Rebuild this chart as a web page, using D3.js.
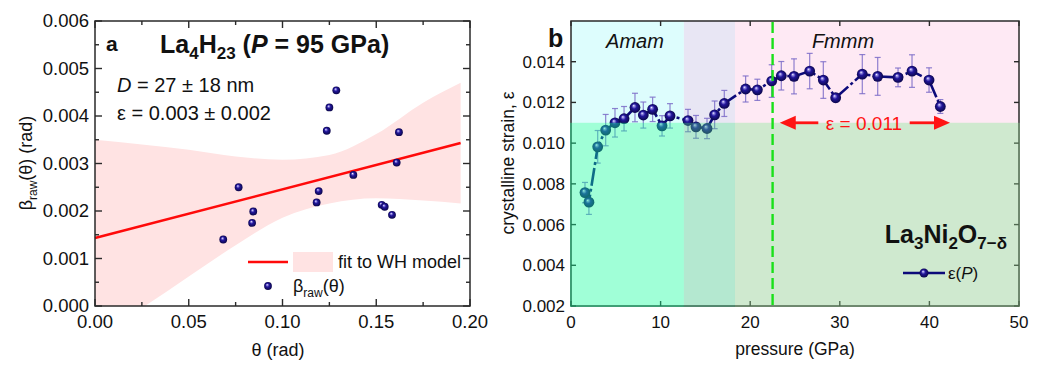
<!DOCTYPE html>
<html><head><meta charset="utf-8">
<script src="https://cdn.jsdelivr.net/npm/d3@7"></script>
<style>
body{margin:0;background:#fff;}
text{font-family:Arial,"Liberation Sans",sans-serif;fill:#111;}
</style></head><body>
<svg id="c" width="1043" height="368"></svg>
<script>
// ---------- Panel a data ----------
const thetaPts = [0.0684,0.0766,0.0844,0.0838,0.1182,0.1193,0.1236,0.1250,0.1287,0.1378,0.1529,0.1545,0.1584,0.1609,0.1621];
const betaPts  = [0.00140,0.00250,0.00199,0.00175,0.00218,0.00242,0.00369,0.00418,0.00454,0.00276,0.00213,0.00209,0.00192,0.00302,0.00366];
const fitTheta = [0, 0.195];
const fitBeta  = [0.00143, 0.00343];
const bandTheta = [0, 0.025, 0.05, 0.075, 0.1, 0.125, 0.15, 0.175, 0.195];
const bandUpper = [0.00350, 0.00340, 0.00329, 0.00315, 0.00308, 0.00318, 0.00362, 0.00428, 0.00470];
const bandLower = [-0.0006, -0.00004, 0.00062, 0.00128, 0.00186, 0.00216, 0.00227, 0.00222, 0.00216];
const aXTicks = [0, 0.05, 0.10, 0.15, 0.20];
const aYTicks = [0, 0.001, 0.002, 0.003, 0.004, 0.005, 0.006];

// ---------- Panel b data ----------
const pressure = [1.56,2.0,2.98,3.87,4.91,5.92,7.14,8.07,9.11,10.16,11.05,13.06,13.95,15.18,16.03,17.11,19.49,20.8,22.4,23.47,24.89,26.64,28.16,29.54,32.51,34.23,36.5,38.06,39.96,41.22];
const strain = [0.00757,0.0071,0.00982,0.01064,0.0110,0.0112,0.01175,0.01138,0.01166,0.01085,0.01134,0.01111,0.0108,0.01072,0.01139,0.01195,0.01266,0.01262,0.01305,0.01331,0.01328,0.01354,0.0131,0.01223,0.01339,0.01328,0.01323,0.01354,0.0131,0.0118];
const strainErr = [0.0005,0.0006,0.0008,0.00077,0.0007,0.0006,0.0007,0.00064,0.0006,0.0005,0.0006,0.00055,0.00056,0.0005,0.00068,0.00064,0.00064,0.00052,0.0008,0.0007,0.00086,0.00087,0.0009,0.0002,0.00096,0.00093,0.00046,0.0008,0.0006,0.00034];
const phaseBounds = [0, 12.6, 18.3, 50];
const strainThreshold = 0.011;
const transitionP = 22.5;
const arrowP = [23.3, 27.6, 37.8, 42.3];
const bXTicks = [0, 10, 20, 30, 40, 50];
const bYTicks = [0.002, 0.004, 0.006, 0.008, 0.010, 0.012, 0.014];

const svg = d3.select("#c");
const defs = svg.append("defs");
function sphere(id){
  const g = defs.append("radialGradient").attr("id", id).attr("cx","50%").attr("cy","50%").attr("r","55%").attr("fx","38%").attr("fy","32%");
  g.append("stop").attr("offset","0%").attr("stop-color","#ffffff");
  g.append("stop").attr("offset","14%").attr("stop-color","#9a92e6");
  g.append("stop").attr("offset","42%").attr("stop-color","#22169a");
  g.append("stop").attr("offset","100%").attr("stop-color","#080440");
}
sphere("sphA");
sphere("sphB");

// ================= PANEL A =================
const A = {l:95, r:470, t:21, b:306};
const xa = d3.scaleLinear().domain([0,0.2]).range([A.l,A.r]);
const ya = d3.scaleLinear().domain([0,0.006]).range([A.b,A.t]);
defs.append("clipPath").attr("id","clipA").append("rect").attr("x",A.l).attr("y",A.t).attr("width",A.r-A.l).attr("height",A.b-A.t);
const ga = svg.append("g");
const band = d3.area().x((d,i)=>xa(bandTheta[i])).y0((d,i)=>ya(bandLower[i])).y1((d,i)=>ya(bandUpper[i])).curve(d3.curveMonotoneX);
ga.append("path").attr("clip-path","url(#clipA)").attr("d", band(bandTheta)).attr("fill","#ffe3e3");
ga.append("path").attr("d", d3.line().x((d,i)=>xa(fitTheta[i])).y((d,i)=>ya(fitBeta[i]))(fitTheta))
  .attr("stroke","#ff0a0a").attr("stroke-width",2.6).attr("fill","none");
ga.selectAll("circle.pa").data(thetaPts).join("circle").attr("class","pa")
  .attr("cx",(d)=>xa(d)).attr("cy",(d,i)=>ya(betaPts[i])).attr("r",3.9).attr("fill","url(#sphA)");

function frameAxes(g, x, y, box, xt, yt, xMinor, yMinor, majLen, minLen, xfmt, yfmt, fs){
  g.append("rect").attr("x",box.l).attr("y",box.t).attr("width",box.r-box.l).attr("height",box.b-box.t)
    .attr("fill","none").attr("stroke","#2a2a2a").attr("stroke-width",1.5);
  const tick = (x1,y1,x2,y2)=>g.append("line").attr("x1",x1).attr("y1",y1).attr("x2",x2).attr("y2",y2).attr("stroke","#2a2a2a").attr("stroke-width",1.4);
  xt.forEach(v=>{tick(x(v),box.b,x(v),box.b-majLen); tick(x(v),box.t,x(v),box.t+majLen);});
  xMinor.forEach(v=>{tick(x(v),box.b,x(v),box.b-minLen); tick(x(v),box.t,x(v),box.t+minLen);});
  yt.forEach(v=>{tick(box.l,y(v),box.l+majLen,y(v)); tick(box.r,y(v),box.r-majLen,y(v));});
  yMinor.forEach(v=>{tick(box.l,y(v),box.l+minLen,y(v)); tick(box.r,y(v),box.r-minLen,y(v));});
  xt.forEach(v=>g.append("text").attr("x",x(v)).attr("y",box.b+22).attr("text-anchor","middle").attr("font-size",fs).text(xfmt(v)));
  yt.forEach(v=>g.append("text").attr("x",box.l-6).attr("y",y(v)+6).attr("text-anchor","end").attr("font-size",fs).text(yfmt(v)));
}
const aXMinor = [0.025,0.075,0.125,0.175];
const aYMinor = [0.0005,0.0015,0.0025,0.0035,0.0045,0.0055];
frameAxes(ga, xa, ya, A, aXTicks, aYTicks, aXMinor, aYMinor, 7, 4, d3.format(".2f"), d3.format(".3f"), 18.5);

ga.append("text").attr("x",106).attr("y",51).attr("font-size",21).attr("font-weight","bold").text("a");
const tA = ga.append("text").attr("x",160).attr("y",53).attr("font-size",25).attr("font-weight","bold");
tA.append("tspan").text("La");
tA.append("tspan").attr("font-size",17).attr("dy",6).text("4");
tA.append("tspan").attr("dy",-6).text("H");
tA.append("tspan").attr("font-size",17).attr("dy",6).text("23");
tA.append("tspan").attr("dy",-6).text(" (");
tA.append("tspan").attr("font-style","italic").text("P");
tA.append("tspan").text(" = 95 GPa)");
const tD = ga.append("text").attr("x",117).attr("y",92).attr("font-size",20);
tD.append("tspan").attr("font-style","italic").text("D");
tD.append("tspan").text(" = 27 ± 18 nm");
ga.append("text").attr("x",117).attr("y",120).attr("font-size",20).text("ε = 0.003 ± 0.002");
ga.append("line").attr("x1",248).attr("x2",288).attr("y1",262).attr("y2",262).attr("stroke","#ff0a0a").attr("stroke-width",2.6);
ga.append("rect").attr("x",293).attr("y",252).attr("width",40).attr("height",20).attr("fill","#ffe3e3");
ga.append("text").attr("x",338).attr("y",268).attr("font-size",18).text("fit to WH model");
ga.append("circle").attr("cx",268).attr("cy",286).attr("r",3.9).attr("fill","url(#sphA)");
const tb = ga.append("text").attr("x",293).attr("y",292).attr("font-size",18);
tb.append("tspan").text("β");
tb.append("tspan").attr("font-size",12).attr("dy",5).text("raw");
tb.append("tspan").attr("dy",-5).text("(θ)");
ga.append("text").attr("x",278).attr("y",356).attr("text-anchor","middle").attr("font-size",18).text("θ (rad)");
const yTA = ga.append("text").attr("transform","translate(32,163) rotate(-90)").attr("text-anchor","middle").attr("font-size",18);
yTA.append("tspan").text("β");
yTA.append("tspan").attr("font-size",12).attr("dy",5).text("raw");
yTA.append("tspan").attr("dy",-5).text("(θ) (rad)");

// ================= PANEL B =================
const B = {l:571, r:1019, t:21, b:306};
const xb = d3.scaleLinear().domain([0,50]).range([B.l,B.r]);
const yb = d3.scaleLinear().domain([0.002,0.016]).range([B.b,B.t]);
const gb = svg.append("g");
const upperCols = ["#ddfdfd","#e8e6f4","#fee9f4"];
const lowerCols = ["rgb(17,255,155)","rgb(67,197,137)","rgb(135,200,135)"];
for(let i=0;i<3;i++){
  gb.append("rect").attr("x",xb(phaseBounds[i])).attr("y",B.t).attr("width",xb(phaseBounds[i+1])-xb(phaseBounds[i]))
    .attr("height",yb(strainThreshold)-B.t).attr("fill",upperCols[i]);
}
const eb = gb.append("g").attr("stroke","#7b6cc8").attr("stroke-width",1.2).attr("stroke-opacity",0.85);
pressure.forEach((p,i)=>{
  const x = xb(p), y1 = yb(strain[i]+strainErr[i]), y2 = yb(strain[i]-strainErr[i]);
  eb.append("line").attr("x1",x).attr("x2",x).attr("y1",y1).attr("y2",y2);
  eb.append("line").attr("x1",x-3).attr("x2",x+3).attr("y1",y1).attr("y2",y1);
  eb.append("line").attr("x1",x-3).attr("x2",x+3).attr("y1",y2).attr("y2",y2);
});
gb.append("path").attr("d", d3.line().x((d,i)=>xb(pressure[i])).y((d,i)=>yb(strain[i]))(pressure))
  .attr("fill","none").attr("stroke","#0c0a7a").attr("stroke-width",2.6).attr("stroke-dasharray","18,3,3,3");
gb.selectAll("circle.pb").data(pressure).join("circle").attr("class","pb")
  .attr("cx",d=>xb(d)).attr("cy",(d,i)=>yb(strain[i])).attr("r",5.4).attr("fill","url(#sphB)");

frameAxes(gb, xb, yb, B, bXTicks, bYTicks, [], [], 5, 3, d3.format("d"), d3.format(".3f"), 17);
for(let i=0;i<3;i++){
  const x0 = xb(phaseBounds[i]) - (i===0?1:0), x1 = xb(phaseBounds[i+1]) + (i===2?1:0);
  gb.append("rect").attr("x",x0).attr("y",yb(strainThreshold)).attr("width",x1-x0)
    .attr("height",B.b+1-yb(strainThreshold)).attr("fill",lowerCols[i]).attr("fill-opacity",0.4);
}
gb.append("line").attr("x1",xb(transitionP)).attr("x2",xb(transitionP)).attr("y1",B.t+1).attr("y2",B.b)
  .attr("stroke","#19e019").attr("stroke-width",2.4).attr("stroke-dasharray","11,5");
const red = "#ff1414";
const ay = yb(strainThreshold);
gb.append("line").attr("x1",xb(arrowP[0])+10).attr("x2",xb(arrowP[1])).attr("y1",ay).attr("y2",ay).attr("stroke",red).attr("stroke-width",2.8);
gb.append("path").attr("d",`M${xb(arrowP[0])},${ay} l16,-7 l0,14 z`).attr("fill",red);
gb.append("line").attr("x1",xb(arrowP[2])).attr("x2",xb(arrowP[3])-10).attr("y1",ay).attr("y2",ay).attr("stroke",red).attr("stroke-width",2.8);
gb.append("path").attr("d",`M${xb(arrowP[3])},${ay} l-16,-7 l0,14 z`).attr("fill",red);
gb.append("text").attr("x",(xb(arrowP[1])+xb(arrowP[2]))/2).attr("y",ay+7).attr("text-anchor","middle").attr("font-size",19).style("fill",red).text("ε = 0.011");
gb.append("text").attr("x",548).attr("y",47).attr("font-size",25).attr("font-weight","bold").text("b");
gb.append("text").attr("x",635).attr("y",48).attr("text-anchor","middle").attr("font-size",20).attr("font-style","italic").text("Amam");
gb.append("text").attr("x",843).attr("y",48).attr("text-anchor","middle").attr("font-size",20).attr("font-style","italic").text("Fmmm");
const tL = gb.append("text").attr("x",1007).attr("y",243).attr("text-anchor","end").attr("font-size",25).attr("font-weight","bold");
tL.append("tspan").text("La");
tL.append("tspan").attr("font-size",17).attr("dy",6).text("3");
tL.append("tspan").attr("dy",-6).text("Ni");
tL.append("tspan").attr("font-size",17).attr("dy",6).text("2");
tL.append("tspan").attr("dy",-6).text("O");
tL.append("tspan").attr("font-size",17).attr("dy",6).text("7−δ");
gb.append("line").attr("x1",903).attr("x2",945).attr("y1",273).attr("y2",273).attr("stroke","#0c0a7a").attr("stroke-width",2.6);
gb.append("circle").attr("cx",924).attr("cy",273).attr("r",4.5).attr("fill","url(#sphB)");
const tE = gb.append("text").attr("x",948).attr("y",279).attr("font-size",17);
tE.append("tspan").text("ε(");
tE.append("tspan").attr("font-style","italic").text("P");
tE.append("tspan").text(")");
gb.append("text").attr("x",795).attr("y",355).attr("text-anchor","middle").attr("font-size",17.5).text("pressure (GPa)");
gb.append("text").attr("transform","translate(514,163) rotate(-90)").attr("text-anchor","middle").attr("font-size",17.5).text("crystalline strain, ε");
</script></body></html>
